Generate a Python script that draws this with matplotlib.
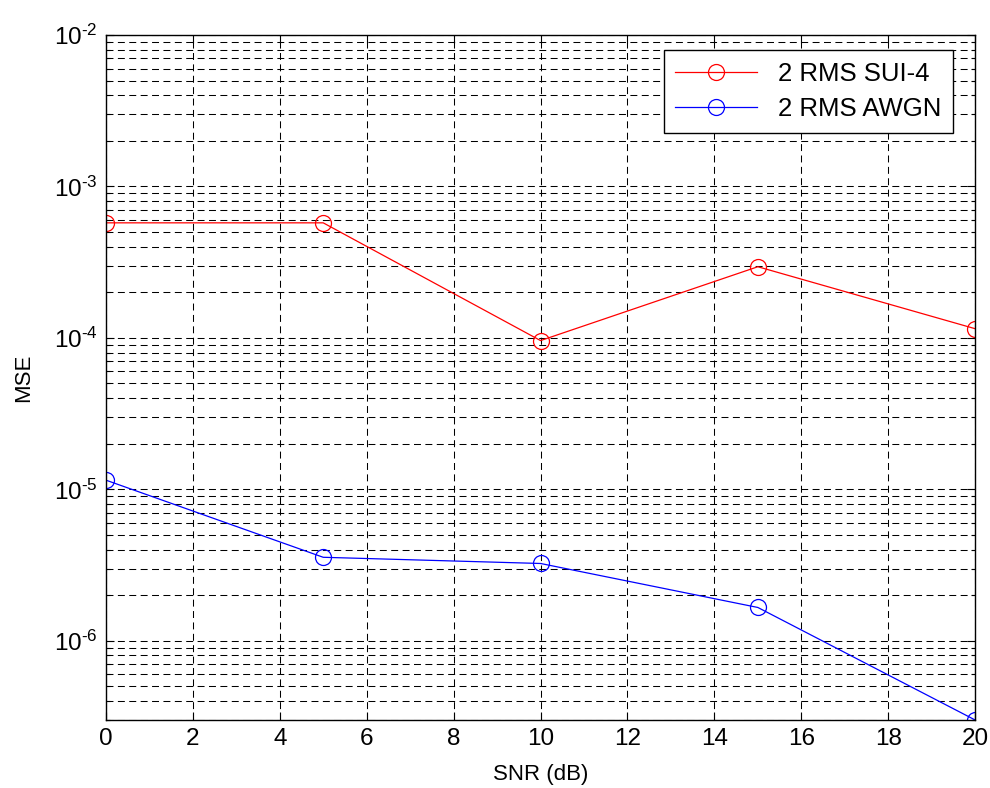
import numpy as np
import matplotlib.pyplot as plt
from matplotlib.ticker import LogLocator, FixedLocator

plt.rcParams['font.family'] = ['Liberation Sans', 'DejaVu Sans']
plt.rcParams['mathtext.fontset'] = 'custom'
plt.rcParams['mathtext.rm'] = 'Liberation Sans'
plt.rcParams['mathtext.it'] = 'Liberation Sans:italic'
plt.rcParams['mathtext.bf'] = 'Liberation Sans:bold'
plt.rcParams['lines.scale_dashes'] = False

snr = [0, 5, 10, 15, 20]
mse_sui4 = [5.75e-4, 5.75e-4, 9.6e-5, 2.95e-4, 1.15e-4]
mse_awgn = [1.15e-5, 3.56e-6, 3.24e-6, 1.66e-6, 3.0e-7]
decades = [-6, -5, -4, -3, -2]

fig = plt.figure(figsize=(9.9, 7.88), dpi=100)
ax = fig.add_axes([0.107, 0.0863, 0.878, 0.8693])

ax.semilogy(snr, mse_sui4, '-o', color='red', lw=0.9, markersize=11.5,
            markerfacecolor='none', markeredgewidth=0.9, label='2 RMS SUI-4')
ax.semilogy(snr, mse_awgn, '-o', color='blue', lw=0.9, markersize=11.5,
            markerfacecolor='none', markeredgewidth=0.9, label='2 RMS AWGN')

ax.set_xlim(0, 20)
ax.set_ylim(3e-7, 1e-2)
ax.set_xticks(np.arange(0, 21, 2))
ax.yaxis.set_major_locator(FixedLocator([10.0 ** d for d in decades]))
ax.yaxis.set_minor_locator(LogLocator(base=10, subs=np.arange(2, 10), numticks=20))
ax.set_yticklabels([r'$10^{\text{-}%d}$' % -d for d in decades])

dash = (0, (5, 3.2))
ax.grid(True, which='major', axis='both', color='black', lw=0.75, linestyle=dash)
ax.grid(True, which='minor', axis='y', color='black', lw=0.75, linestyle=dash)

ax.tick_params(which='both', direction='in', top=True, right=True, labelsize=17.5,
               width=0.8, color='black')
ax.tick_params(which='major', length=6, pad=6)
ax.tick_params(which='minor', length=3, labelleft=False)
for s in ax.spines.values():
    s.set_linewidth(1.0)
    s.set_color('black')

ax.set_xlabel('SNR (dB)', fontsize=16, labelpad=10)
ax.set_ylabel('MSE', fontsize=16, labelpad=14)

# legend box: top-right corner a little inside the axes
leg = ax.legend(loc='upper right', bbox_to_anchor=(0.9626, 0.9365),
                bbox_transform=fig.transFigure, borderaxespad=0,
                fontsize=18.5, frameon=True, fancybox=False,
                edgecolor='black', framealpha=1,
                handlelength=3.2, handletextpad=0.8, borderpad=0.45,
                labelspacing=0.45)
leg.get_frame().set_linewidth(1.0)

fig.savefig('out.png', dpi=100)
